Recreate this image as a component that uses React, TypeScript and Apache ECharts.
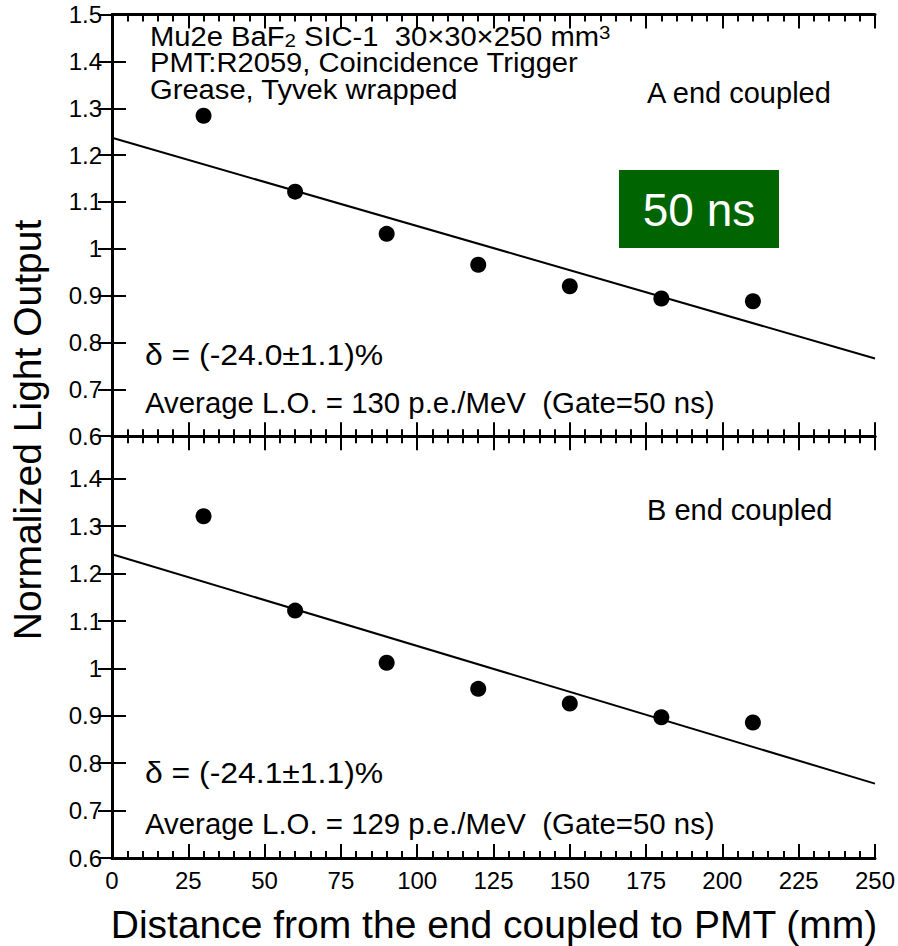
import React, { useEffect, useRef } from "react";
import * as echarts from "echarts";

// ---- data ----
const distances = [30, 60, 90, 120, 150, 180, 210];
const lightA = [1.284, 1.122, 1.032, 0.966, 0.92, 0.894, 0.888];
const lightB = [1.321, 1.122, 1.012, 0.957, 0.926, 0.897, 0.886];
const fitA = [
  [0, 1.237],
  [250, 0.766],
];
const fitB = [
  [0, 1.241],
  [250, 0.757],
];
const yTicksB = [0.6, 0.7, 0.8, 0.9, 1.0, 1.1, 1.2, 1.3, 1.4];

const FONT = "'Liberation Sans', Arial, Helvetica, sans-serif";

const L = 112;
const R = 898 - 875;
const TOP0 = 14.6;
const MID = 436.2;
const BOT = 858;

const fmtY = (v: number) => String(Number(v.toFixed(1)));

export default function App() {
  const ref = useRef<HTMLDivElement>(null);

  useEffect(() => {
    if (!ref.current) return;
    const chart = echarts.init(ref.current, null, { renderer: "svg" });

    const axisLine = { show: true, lineStyle: { color: "#000", width: 3 } };
    const tick = { show: true, inside: true, length: 14, lineStyle: { color: "#000", width: 2 } };
    const minor = { show: true, splitNumber: 5, length: 7, lineStyle: { color: "#000", width: 2 } };
    const label = { color: "#000", fontSize: 24, fontFamily: FONT };

    const xBase = {
      type: "value" as const,
      min: 0,
      max: 250,
      interval: 25,
      axisLine,
      axisTick: tick,
      minorTick: minor,
      splitLine: { show: false },
      minorSplitLine: { show: false },
    };

    const txt = (x: number, y: number, text: string, size: number, extra: any = {}) => ({
      type: "text",
      x,
      y,
      ...extra,
      style: { text, fill: "#000", fontSize: size, fontFamily: FONT, verticalAlign: "middle", ...(extra.style || {}) },
    });

    const option: any = {
      animation: false,
      backgroundColor: "#fff",
      grid: [
        { left: L, right: R, top: TOP0, height: MID - TOP0 },
        { left: L, right: R, top: MID, height: BOT - MID },
      ],
      xAxis: [
        { ...xBase, gridIndex: 0, position: "bottom", axisLabel: { show: false } },
        { ...xBase, gridIndex: 0, position: "top", axisLabel: { show: false } },
        {
          ...xBase,
          gridIndex: 1,
          position: "bottom",
          axisLabel: { ...label, margin: 10 },
        },
        { ...xBase, gridIndex: 1, position: "top", axisLabel: { show: false } },
      ],
      yAxis: [
        {
          type: "value",
          gridIndex: 0,
          position: "left",
          min: 0.6,
          max: 1.5,
          interval: 0.1,
          axisLine,
          axisTick: tick,
          splitLine: { show: false },
          axisLabel: { ...label, margin: 10, formatter: fmtY },
        },
        {
          type: "value",
          gridIndex: 0,
          position: "right",
          min: 0.6,
          max: 1.5,
          interval: 0.1,
          axisLine,
          axisTick: tick,
          splitLine: { show: false },
          axisLabel: { show: false },
        },
        {
          type: "value",
          gridIndex: 1,
          position: "left",
          min: 0.6,
          max: 1.49,
          axisLine,
          axisTick: { ...tick, customValues: yTicksB },
          splitLine: { show: false },
          axisLabel: { ...label, margin: 10, customValues: yTicksB, formatter: fmtY },
        },
        {
          type: "value",
          gridIndex: 1,
          position: "right",
          min: 0.6,
          max: 1.49,
          axisLine,
          axisTick: { ...tick, customValues: yTicksB },
          splitLine: { show: false },
          axisLabel: { show: false },
        },
      ],
      series: [
        {
          type: "line",
          xAxisIndex: 0,
          yAxisIndex: 0,
          data: fitA,
          showSymbol: false,
          lineStyle: { color: "#000", width: 2 },
          silent: true,
        },
        {
          type: "scatter",
          xAxisIndex: 0,
          yAxisIndex: 0,
          data: distances.map((d, i) => [d, lightA[i]]),
          symbol: "circle",
          symbolSize: 16,
          itemStyle: { color: "#000", opacity: 1 },
        },
        {
          type: "line",
          xAxisIndex: 2,
          yAxisIndex: 2,
          data: fitB,
          showSymbol: false,
          lineStyle: { color: "#000", width: 2 },
          silent: true,
        },
        {
          type: "scatter",
          xAxisIndex: 2,
          yAxisIndex: 2,
          data: distances.map((d, i) => [d, lightB[i]]),
          symbol: "circle",
          symbolSize: 16,
          itemStyle: { color: "#000", opacity: 1 },
        },
      ],
      graphic: [
        {
          type: "text",
          x: 150,
          y: 36.5,
          scaleX: 1.08,
          style: {
            text: "{a|Mu2e BaF}{sub|2}{a| SIC-1  30×30×250 mm}{sup|3}",
            fill: "#000",
            verticalAlign: "middle",
            rich: {
              a: { fontSize: 27, lineHeight: 27, fontFamily: FONT, fill: "#000", verticalAlign: "middle" },
              sub: { fontSize: 19, lineHeight: 17, fontFamily: FONT, fill: "#000", verticalAlign: "bottom" },
              sup: { fontSize: 19, lineHeight: 17, fontFamily: FONT, fill: "#000", verticalAlign: "top" },
            },
          },
        },
        txt(150, 63, "PMT:R2059, Coincidence Trigger", 27, { scaleX: 1.08, style: { lineHeight: 26 } }),
        txt(150, 90, "Grease, Tyvek wrapped", 27, { scaleX: 1.08, style: { lineHeight: 26 } }),
        txt(647, 93, "A end coupled", 29),
        {
          type: "rect",
          shape: { x: 619, y: 170, width: 160, height: 78 },
          style: { fill: "#006400" },
        },
        {
          type: "text",
          x: 699,
          y: 210,
          style: { text: "50 ns", fill: "#fff", fontSize: 46, fontFamily: FONT, align: "center", verticalAlign: "middle" },
        },
        txt(145, 355, "δ = (-24.0±1.1)%", 29, { scaleX: 1.1 }),
        txt(145, 402, "Average L.O. = 130 p.e./MeV  (Gate=50 ns)", 29.4),
        txt(647, 510, "B end coupled", 29),
        txt(145, 773, "δ = (-24.1±1.1)%", 29, { scaleX: 1.1 }),
        txt(145, 823, "Average L.O. = 129 p.e./MeV  (Gate=50 ns)", 29.4),
        {
          type: "text",
          x: 27,
          y: 430,
          rotation: Math.PI / 2,
          style: { text: "Normalized Light Output", fill: "#000", fontSize: 39, fontFamily: FONT, align: "center", verticalAlign: "middle" },
        },
        {
          type: "text",
          x: 494,
          y: 924,
          style: { text: "Distance from the end coupled to PMT (mm)", fill: "#000", fontSize: 39, fontFamily: FONT, align: "center", verticalAlign: "middle" },
        },
      ],
    };

    chart.setOption(option);
    return () => chart.dispose();
  }, []);

  return (
    <div
      ref={ref}
      style={{ position: "fixed", left: 0, top: 0, width: 898, height: 946, background: "#fff" }}
    />
  );
}
